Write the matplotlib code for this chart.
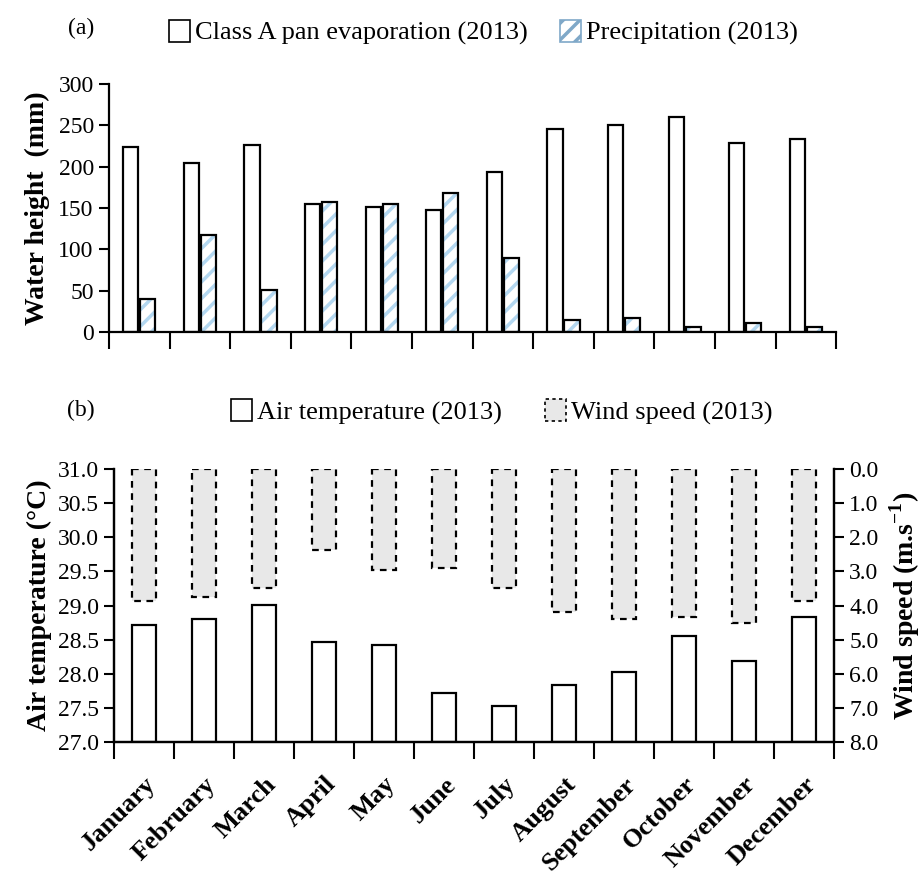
import matplotlib
matplotlib.use("Agg")
import matplotlib.pyplot as plt
import numpy as np
from matplotlib.patches import Patch

plt.rcParams["font.family"] = ["Liberation Serif", "DejaVu Serif"]
plt.rcParams["mathtext.fontset"] = "custom"
plt.rcParams["mathtext.rm"] = "Liberation Serif"
plt.rcParams["mathtext.bf"] = "Liberation Serif:bold"
plt.rcParams["hatch.linewidth"] = 2.5

months = ["January", "February", "March", "April", "May", "June", "July",
          "August", "September", "October", "November", "December"]

# monthly totals, mm
pan_evap = [224, 204, 226, 155, 151, 148, 193, 246, 251, 260, 229, 233]
precip = [40, 117, 51, 157, 155, 168, 90, 15, 17, 6, 11, 6]

# monthly means
air_temp = [28.72, 28.80, 29.01, 28.47, 28.42, 27.72, 27.53, 27.83, 28.02, 28.55, 28.18, 28.83]
wind_speed = [3.87, 3.75, 3.49, 2.36, 2.95, 2.89, 3.49, 4.19, 4.40, 4.34, 4.51, 3.87]

BLUE = "#b3d7f0"
GREY = "#e8e8e8"
x = np.arange(len(months))
edges = np.arange(len(months) + 1) - 0.5

fig = plt.figure(figsize=(9.24, 8.77), dpi=100)
ax1 = fig.add_axes([0.118, 0.6214, 0.787, 0.2828])
ax2 = fig.add_axes([0.1234, 0.1539, 0.7792, 0.3113])

# (a) evaporation vs precipitation
w = 0.25
ax1.bar(x - 0.14, pan_evap, w, color="white", edgecolor="black", linewidth=1.6)
ax1.bar(x + 0.14, precip, w, color="white", edgecolor=BLUE, hatch="//", linewidth=0)
ax1.bar(x + 0.14, precip, w, color="none", edgecolor="black", linewidth=1.6)
ax1.set_ylim(0, 300)
ax1.set_xlim(-0.5, 11.5)
ax1.set_yticks(np.arange(0, 301, 50))
ax1.set_xticks(edges)
ax1.set_xticklabels([])
ax1.set_ylabel("Water height  (mm)", fontsize=20, fontweight="bold", labelpad=6)
for s in ["top", "right"]:
    ax1.spines[s].set_visible(False)
for s in ["left", "bottom"]:
    ax1.spines[s].set_linewidth(1.6)
ax1.tick_params(axis="y", direction="out", length=7, width=1.5, labelsize=17, pad=4)
ax1.tick_params(axis="x", direction="out", length=12, width=1.5)

h_a = [Patch(facecolor="white", edgecolor="black", linewidth=1.2),
       Patch(facecolor="white", edgecolor="#7fa8c8", hatch="//", linewidth=1.2)]
fig.legend(h_a, ["Class A pan evaporation (2013)", "Precipitation (2013)"],
           loc="center", bbox_to_anchor=(0.523, 0.963), ncol=2, frameon=False,
           fontsize=19, handlelength=0.8, handleheight=0.9, handletextpad=0.2,
           columnspacing=1.2)
fig.text(0.088, 0.968, "(a)", fontsize=17, ha="center", va="center")

# (b) air temperature and wind speed (inverted right axis)
ax2.bar(x, np.array(air_temp) - 27.0, 0.4, bottom=27.0, color="white",
        edgecolor="black", linewidth=1.6)
ax2.set_ylim(27.0, 31.0)
ax2.set_xlim(-0.5, 11.5)
ax2.set_yticks(np.arange(27.0, 31.01, 0.5))
ax2.set_yticklabels([f"{v:.1f}" for v in np.arange(27.0, 31.01, 0.5)])
ax2.set_ylabel("Air temperature (°C)", fontsize=20, fontweight="bold", labelpad=4)

ax3 = ax2.twinx()
ax3.bar(x, wind_speed, 0.4, color=GREY, edgecolor="black", linewidth=1.6,
        linestyle=(0, (3, 2.5)))
ax3.set_ylim(8.0, 0.0)
ax3.set_yticks(np.arange(0, 8.01, 1.0))
ax3.set_yticklabels([f"{v:.1f}" for v in np.arange(0, 8.01, 1.0)])
ax3.set_ylabel("Wind speed (m.s$^{\\mathbf{-1}}$)", fontsize=20, fontweight="bold",
               labelpad=6)

for a in (ax2, ax3):
    a.spines["top"].set_visible(False)
    for s in ["left", "right", "bottom"]:
        a.spines[s].set_linewidth(1.6)
ax2.tick_params(axis="y", direction="out", length=7, width=1.5, labelsize=17, pad=4)
ax3.tick_params(axis="y", direction="out", length=7, width=1.5, labelsize=17, pad=4)

ax2.set_xticks(edges)
ax2.set_xticklabels([])
ax2.tick_params(axis="x", which="major", direction="out", length=12, width=1.5)
ax2.set_xticks(x, minor=True)
ax2.set_xticklabels(months, minor=True, rotation=45, ha="right", va="top",
                    rotation_mode="anchor", fontsize=19, fontweight="bold")
ax2.tick_params(axis="x", which="minor", length=0, pad=22)

h_b = [Patch(facecolor="white", edgecolor="black", linewidth=1.2),
       Patch(facecolor=GREY, edgecolor="black", linewidth=1.2, linestyle=(0, (2, 2)))]
fig.legend(h_b, ["Air temperature (2013)", "Wind speed (2013)"],
           loc="center", bbox_to_anchor=(0.543, 0.530), ncol=2, frameon=False,
           fontsize=19, handlelength=0.8, handleheight=0.9, handletextpad=0.2,
           columnspacing=1.6)
fig.text(0.088, 0.532, "(b)", fontsize=17, ha="center", va="center")

fig.savefig("out.png", dpi=100)
